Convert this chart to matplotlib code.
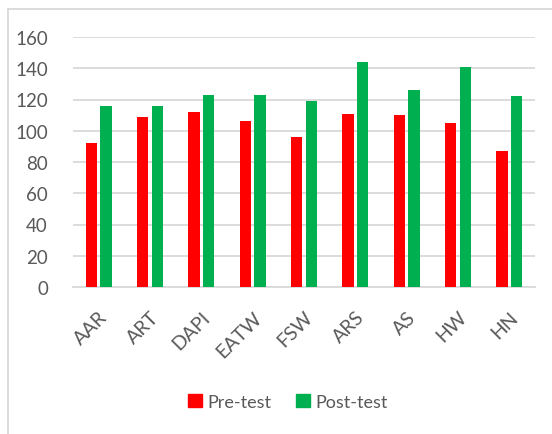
import matplotlib
matplotlib.use("Agg")
import matplotlib.pyplot as plt
import numpy as np
from matplotlib.lines import Line2D

categories = ["AAR", "ART", "DAPI", "EATW", "FSW", "ARS", "AS", "HW", "HN"]
pre_test = [92, 109, 112, 106, 96, 111, 110, 105, 87]
post_test = [116, 116, 123, 123, 119, 144, 126, 141, 122]
yticks = [0, 20, 40, 60, 80, 100, 120, 140, 160]

plt.rcParams['font.family'] = ['Lato', 'DejaVu Sans']

W, H = 552, 435
fig = plt.figure(figsize=(W/100, H/100), dpi=100)
ax = fig.add_axes([73/W, 1-288/H, (535-73)/W, (288-38)/H])

x = np.arange(len(categories))
bw = 0.225
gap = 0.06
ax.bar(x - (bw+gap)/2, pre_test, bw, color="#FF0000", label="Pre-test", zorder=3)
ax.bar(x + (bw+gap)/2, post_test, bw, color="#00B050", label="Post-test", zorder=3)

ax.set_xlim(-0.5, len(categories)-0.5)
ax.set_ylim(0, 160)
ax.set_yticks(yticks)
ax.set_yticklabels([str(v) for v in yticks], color="#595959", fontsize=13.5)
ax.yaxis.grid(True, color="#D9D9D9", linewidth=1.3, zorder=0)
ax.tick_params(axis='y', length=0, pad=18)
ax.tick_params(axis='x', length=0, pad=15)
ax.set_xticks(x)
ax.set_xticklabels(categories, rotation=45, ha="right", rotation_mode="anchor",
                   color="#595959", fontsize=14)
for s in ["top", "right", "left"]:
    ax.spines[s].set_visible(False)
ax.spines["bottom"].set_color("#D9D9D9")
ax.spines["bottom"].set_linewidth(1.3)

handles = [plt.Rectangle((0, 0), 1, 1, color="#FF0000"),
           plt.Rectangle((0, 0), 1, 1, color="#00B050")]
fig.legend(handles, ["Pre-test", "Post-test"], loc="center",
           bbox_to_anchor=(288/W, 1-403/H), ncol=2, frameon=False,
           fontsize=13, handlelength=0.75, handleheight=0.75,
           handletextpad=0.3, columnspacing=1.4, labelcolor="#595959")

# chart frame border
fig.add_artist(Line2D([8/W, 8/W], [0, 1-10/H], transform=fig.transFigure,
                      color="#D9D9D9", linewidth=1.3))
fig.add_artist(Line2D([8/W, 1], [1-10/H, 1-10/H], transform=fig.transFigure,
                      color="#D9D9D9", linewidth=1.3))

fig.savefig("out.png", dpi=100)
